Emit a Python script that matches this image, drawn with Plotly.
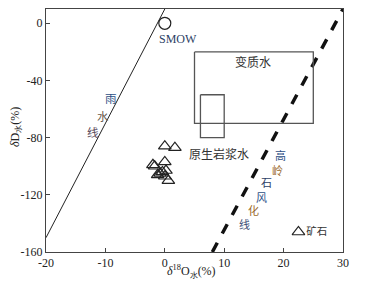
import plotly.graph_objects as go

# ---- data ----
ore_d18o = [0.0, 1.7, -2.0, -1.7, 0.0, -0.8, -0.4, 0.0, 0.6, -1.2, 0.2]
ore_dd = [-86, -87, -99, -100, -97, -105, -104, -107, -110, -106, -103]

smow_x = [0]
smow_y = [0]

mwl_x = [-20, 0]          # meteoric water line dD = 8 d18O + 10
mwl_y = [-150, 10]

kaol_x = [8, 30]          # kaolinite weathering line
kaol_y = [-160, 10]

meta_x = [5, 25, 25, 5, 5]
meta_y = [-20, -20, -70, -70, -20]

magma_x = [6, 10, 10, 6, 6]
magma_y = [-50, -50, -80, -80, -50]

xticks = [-20, -10, 0, 10, 20, 30]
xticktext = ["-20", "-10", "0", "10", "20", "30"]
yticks = [0, -40, -80, -120, -160]
yticktext = ["0", "-40", "-80", "-120", "-160"]

mwl_chars = ["雨", "水", "线"]
mwl_char_x = [-9.1, -10.4, -12.1]
mwl_char_y = [-52, -64.6, -75.8]
mwl_char_col = ["#2d4f86", "#6a5a4a", "#5a4a5a"]

kl_chars = ["高", "岭", "石", "风", "化", "线"]
kl_char_x = [19.5, 19.0, 17.1, 16.3, 15.0, 13.4]
kl_char_y = [-92, -102.3, -111.3, -121.3, -130.5, -140.5]
kl_char_col = ["#2d4f86", "#9a6a2a", "#2d3f66", "#2d4f86", "#9a6a2a", "#3d4f76"]

legend_x = [22.5]
legend_y = [-146]

serif = "Liberation Serif"
cjk = "Noto Sans CJK SC"

fig = go.Figure()

fig.add_trace(go.Scatter(x=mwl_x, y=mwl_y, mode="lines",
                         line=dict(color="#222", width=1), hoverinfo="skip"))
fig.add_trace(go.Scatter(x=kaol_x, y=kaol_y, mode="lines",
                         line=dict(color="#111", width=3.5, dash="dash"), hoverinfo="skip"))
fig.add_trace(go.Scatter(x=meta_x, y=meta_y, mode="lines",
                         line=dict(color="#555", width=1.3), hoverinfo="skip"))
fig.add_trace(go.Scatter(x=magma_x, y=magma_y, mode="lines",
                         line=dict(color="#555", width=1.3), hoverinfo="skip"))
fig.add_trace(go.Scatter(x=smow_x, y=smow_y, mode="markers",
                         marker=dict(symbol="circle-open", size=12, color="#222",
                                     line=dict(width=1.2))))
fig.add_trace(go.Scatter(x=ore_d18o, y=ore_dd, mode="markers",
                         marker=dict(symbol="triangle-up-open", size=11, color="#222",
                                     line=dict(width=1.2))))
fig.add_trace(go.Scatter(x=legend_x, y=legend_y, mode="markers+text",
                         text=["矿石"], textposition="middle right",
                         textfont=dict(family=cjk, size=10.5, color="#333"),
                         marker=dict(symbol="triangle-up-open", size=11, color="#222",
                                     line=dict(width=1.2))))

ann = []
ann.append(dict(x=2.3, y=-11, text="SMOW", showarrow=False,
                font=dict(family=serif, size=12, color="#2d3f66")))
ann.append(dict(x=14.8, y=-27, text="变质水", showarrow=False,
                font=dict(family=cjk, size=12, color="#333")))
ann.append(dict(x=9.1, y=-91, text="原生岩浆水", showarrow=False,
                font=dict(family=cjk, size=12, color="#333")))
for c, x, y, col in zip(mwl_chars, mwl_char_x, mwl_char_y, mwl_char_col):
    ann.append(dict(x=x, y=y, text=c, showarrow=False,
                    font=dict(family=cjk, size=11.5, color=col)))
for c, x, y, col in zip(kl_chars, kl_char_x, kl_char_y, kl_char_col):
    ann.append(dict(x=x, y=y, text=c, showarrow=False,
                    font=dict(family=cjk, size=11, color=col)))
# axis titles
ann.append(dict(xref="paper", yref="paper", x=0.49, y=-0.082,
                xanchor="center", yanchor="middle",
                text="<i>δ</i><sup>18</sup>O<sub>水</sub>(%)", showarrow=False,
                font=dict(family=serif, size=12, color="#222")))
ann.append(dict(xref="paper", yref="paper", x=-0.101, y=0.514, textangle=-90,
                xanchor="center", yanchor="middle",
                text="<i>δ</i>D<sub>水</sub>(%)", showarrow=False,
                font=dict(family=serif, size=12, color="#222")))

fig.update_layout(
    width=366, height=284,
    margin=dict(l=38, r=31, t=1, b=40),
    paper_bgcolor="white", plot_bgcolor="white",
    showlegend=False,
    annotations=ann,
    font=dict(family=serif, size=12, color="#222"),
    xaxis=dict(range=[-20, 30], tickvals=xticks, ticktext=xticktext,
               ticks="inside", ticklen=4, tickcolor="#444", automargin=False,
               showgrid=False, zeroline=False,
               showline=True, linecolor="#444", linewidth=1, mirror=True,
               tickfont=dict(family=serif, size=12, color="#222")),
    yaxis=dict(range=[-160, 10], tickvals=yticks, ticktext=yticktext,
               ticks="inside", ticklen=4, tickcolor="#444", automargin=False,
               showgrid=False, zeroline=False,
               showline=True, linecolor="#444", linewidth=1, mirror=True,
               tickfont=dict(family=serif, size=12, color="#222")),
)

fig.write_html("out.html")
